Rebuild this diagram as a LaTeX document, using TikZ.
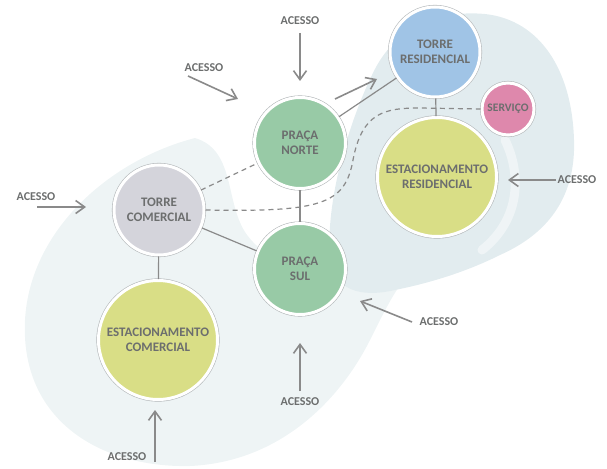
\documentclass[tikz,border=0pt]{standalone}
\usepackage{fontspec}
\setmainfont{Carlito}
\usetikzlibrary{arrows.meta}
\definecolor{bgpale}{RGB}{226,236,239}
\definecolor{bglight}{RGB}{238,244,245}
\definecolor{ringgray}{RGB}{180,184,186}
\definecolor{linkgray}{RGB}{138,138,138}
\definecolor{txtgray}{RGB}{108,110,110}
\definecolor{torreres}{RGB}{160,196,230}
\definecolor{servico}{RGB}{222,136,172}
\definecolor{estac}{RGB}{217,222,134}
\definecolor{praca}{RGB}{152,202,166}
\definecolor{torrecom}{RGB}{212,212,219}
\tikzset{
  area/.style    = {circle, draw=white, line width=3pt, inner sep=0pt,
                    align=center, text=txtgray,
                    font=\fontsize{13}{15}\selectfont\bfseries,
                    preaction={draw=ringgray, line width=4.2pt}},
  atorre/.style  = {area, fill=torreres, minimum size=90pt},
  aserv/.style   = {area, fill=servico, minimum size=52pt,
                    font=\fontsize{11.5}{14}\selectfont\bfseries},
  aestac/.style  = {area, fill=estac, minimum size=119pt},
  apraca/.style  = {area, fill=praca, minimum size=91pt},
  acom/.style    = {area, fill=torrecom, minimum size=90pt},
  link/.style    = {draw=linkgray, line width=1.2pt},
  dlink/.style   = {link, dash pattern=on 5pt off 4pt},
  acc/.style     = {draw=linkgray, line width=1.6pt,
                    -{Straight Barb[length=9pt,width=13pt]}},
  accl/.style    = {text=txtgray, inner sep=1pt,
                    font=\fontsize{12}{14}\selectfont\bfseries},
}
\begin{document}
\begin{tikzpicture}[x=1pt, y=-1pt]
    \useasboundingbox (0,0) rectangle (607,468);

    % fundo
    \fill[bglight] (195,138) .. controls (110,160) and (30,230) .. (25,320)
        .. controls (20,420) and (100,468) .. (190,466)
        .. controls (280,462) and (340,400) .. (370,340)
        .. controls (385,310) and (395,290) .. (404,281)
        .. controls (340,290) and (270,270) .. (245,232)
        .. controls (225,200) and (235,150) .. (195,138);
    \fill[bgpale] (372,75) .. controls (395,25) and (440,10) .. (485,14)
        .. controls (540,20) and (572,70) .. (574,140)
        .. controls (576,200) and (545,235) .. (500,255)
        .. controls (460,275) and (420,285) .. (395,290)
        .. controls (360,298) and (335,290) .. (330,260)
        .. controls (325,200) and (350,120) .. (372,75);
    \draw[white, opacity=0.45, line width=9pt, line cap=round]
        (505,140) .. controls (522,175) and (520,220) .. (482,250);

    \node[atorre] (tr) at (435,52)  {TORRE\\RESIDENCIAL};
    \node[aserv]  (sv) at (508,109) {SERVIÇO};
    \node[aestac] (er) at (437,177) {ESTACIONAMENTO\\RESIDENCIAL};
    \node[apraca] (pn) at (300,143) {PRAÇA\\NORTE};
    \node[apraca] (ps) at (300,269) {PRAÇA\\SUL};
    \node[acom]   (tc) at (159,210) {TORRE\\COMERCIAL};
    \node[aestac] (ec) at (158,340) {ESTACIONAMENTO\\COMERCIAL};

    \draw[link] (pn) -- (tr);
    \draw[link] (tr) -- (er);
    \draw[link] (pn) -- (ps);
    \draw[link] (tc) -- (ps);
    \draw[link] (tc) -- (ec);
    \draw[dlink] (tc) -- (pn);
    \draw[dlink] (tc.east) .. controls (320,212) and (345,205) .. (353,160)
        .. controls (362,112) and (385,108) .. (420,108) -- (sv.west);

    % acessos
    \node[accl] (a1) at (300,21)  {ACESSO};
    \node[accl] (a2) at (204,68)  {ACESSO};
    \node[accl] (a3) at (36,197)  {ACESSO};
    \node[accl] (a4) at (127,457) {ACESSO};
    \node[accl] (a5) at (300,402) {ACESSO};
    \node[accl] (a6) at (439,322) {ACESSO};
    \node[accl] (a7) at (577,180) {ACESSO};

    \coordinate (a1t) at (300,33);  \coordinate (a1h) at (300,81);
    \coordinate (a2t) at (188,76);  \coordinate (a2h) at (238,99);
    \coordinate (a3t) at (37,207);  \coordinate (a3h) at (86,207);
    \coordinate (a4t) at (155,462); \coordinate (a4h) at (155,410);
    \coordinate (a5t) at (300,391); \coordinate (a5h) at (300,343);
    \coordinate (a6t) at (412,322); \coordinate (a6h) at (360,301);
    \coordinate (a7t) at (556,180); \coordinate (a7h) at (508,180);
    \coordinate (a8t) at (335,99);  \coordinate (a8h) at (377,79);

    \draw[acc] (a1t) -- (a1h);
    \draw[acc] (a2t) -- (a2h);
    \draw[acc] (a3t) -- (a3h);
    \draw[acc] (a4t) -- (a4h);
    \draw[acc] (a5t) -- (a5h);
    \draw[acc] (a6t) -- (a6h);
    \draw[acc] (a7t) -- (a7h);
    \draw[acc] (a8t) -- (a8h);
\end{tikzpicture}
\end{document}
